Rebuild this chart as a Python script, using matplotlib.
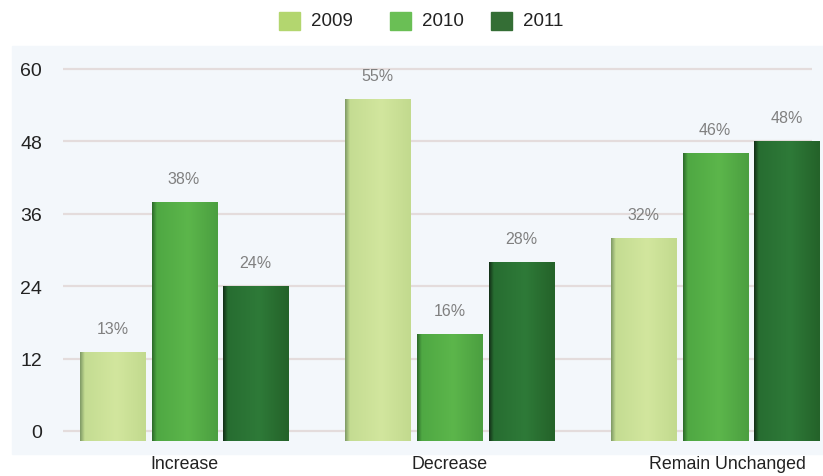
import numpy as np
import matplotlib.pyplot as plt
import matplotlib.transforms as mtransforms
from matplotlib.patches import Rectangle
from matplotlib.colors import LinearSegmentedColormap

categories = ['Increase', 'Decrease', 'Remain Unchanged']
years = ['2009', '2010', '2011']
v2009 = [13, 55, 32]
v2010 = [38, 16, 46]
v2011 = [24, 28, 48]
yticks = [0, 12, 24, 36, 48, 60]

plt.rcParams['font.family'] = ['Liberation Sans', 'DejaVu Sans']

legend_colors = ['#b3d66f', '#6abf55', '#346e35']
# borde izquierdo oscuro, cuerpo, borde derecho
grad_stops = [
    [(0, '#7f9a66'), (0.07, '#c4dc92'), (0.55, '#d2e69e'), (1, '#c2da8e')],
    [(0, '#2c6a2a'), (0.07, '#4fa843'), (0.55, '#5cb64b'), (1, '#4b9f40')],
    [(0, '#132f17'), (0.07, '#276d31'), (0.55, '#2e7a38'), (1, '#246229')],
]
base = -1.6  # las barras arrancan un poco debajo del 0

fig = plt.figure(figsize=(8.23, 4.77), dpi=100)
fig.patches.append(Rectangle((12/823, 22/477), 811/823, 408/477,
                             transform=fig.transFigure, color='#f3f7fb', zorder=-10))
ax = fig.add_axes([63/823, 33/477, 749/823, 397/477])
ax.set_facecolor('none')

x = np.arange(len(categories))
step = 0.27
width = 0.245
series = [v2009, v2010, v2011]

for i, vals in enumerate(series):
    pos = x + (i - 1) * step
    bars = ax.bar(pos, np.array(vals) - base, width, bottom=base,
                  color=legend_colors[i], edgecolor='none', zorder=2)
    cmap = LinearSegmentedColormap.from_list('g%d' % i, grad_stops[i])
    grad = np.linspace(0, 1, 128).reshape(1, -1)
    for b in bars:
        x0, y0 = b.get_x(), b.get_y()
        im = ax.imshow(grad, cmap=cmap, aspect='auto', zorder=3, interpolation='bilinear',
                       extent=[x0, x0 + b.get_width(), y0, y0 + b.get_height()])
        im.set_clip_path(b)
    for p, v in zip(pos, vals):
        ax.annotate('%d%%' % v, (p, v), xytext=(0, 17), textcoords='offset points',
                    ha='center', va='center', fontsize=11.5, color='#808080')

ax.set_xlim(-0.456, 2.365)
ax.set_ylim(-2, 63.8)
ax.set_yticks(yticks)
ax.set_yticklabels([str(t) for t in yticks], fontsize=14, color='#222222')
ax.set_xticks(x)
ax.set_xticklabels(categories, fontsize=12.8, color='#222222')
ax.tick_params(axis='y', length=0, pad=15)
ax.tick_params(axis='x', length=0, pad=9)
# la ultima etiqueta esta algo corrida a la derecha en el original
lab = ax.get_xticklabels()[-1]
lab.set_transform(lab.get_transform() + mtransforms.ScaledTranslation(12/100, 0, fig.dpi_scale_trans))
for t in yticks:
    ax.axhline(t, color='#e4dcdc', lw=1.6, zorder=1)
for s in ax.spines.values():
    s.set_visible(False)

# leyenda arriba
leg_x = [279, 390, 491]
for lx, c, yr in zip(leg_x, legend_colors, years):
    fig.patches.append(Rectangle((lx/823, (477-31)/477), 21/823, 18/477,
                                 transform=fig.transFigure, color=c))
    fig.text((lx + 32)/823, (477-22)/477, yr, fontsize=13.5, color='#222222',
             va='center', ha='left', fontweight='medium')

fig.savefig('out.png', dpi=100)
